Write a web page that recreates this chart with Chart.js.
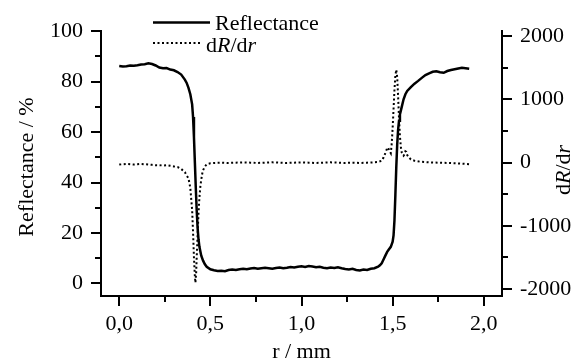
<!DOCTYPE html>
<html><head><meta charset="utf-8">
<script src="https://cdn.jsdelivr.net/npm/chart.js@4"></script>
<style>html,body{margin:0;padding:0;background:#fff}#wrap{width:585px;height:363px;position:relative}</style>
</head><body><div id="wrap"><canvas id="c" width="585" height="363"></canvas></div>
<script>
// ---- data ----
const rX = [0,0.02,0.04,0.06,0.08,0.10,0.12,0.14,0.16,0.18,0.20,0.22,0.24,0.26,0.28,0.30,0.32,0.34,0.36,0.37,0.38,0.39,0.40,0.405,0.41,0.415,0.42,0.425,0.43,0.435,0.44,0.45,0.46,0.47,0.48,0.50,0.52,0.54,0.56,0.58,0.60,0.62,0.64,0.66,0.68,0.70,0.72,0.74,0.76,0.78,0.80,0.82,0.84,0.86,0.88,0.90,0.92,0.94,0.96,0.98,1.00,1.02,1.04,1.06,1.08,1.10,1.12,1.14,1.16,1.18,1.20,1.22,1.24,1.26,1.28,1.30,1.32,1.34,1.36,1.38,1.40,1.42,1.43,1.44,1.45,1.46,1.47,1.48,1.49,1.50,1.505,1.51,1.515,1.52,1.525,1.53,1.535,1.54,1.55,1.56,1.57,1.58,1.60,1.62,1.64,1.66,1.68,1.70,1.72,1.74,1.76,1.78,1.80,1.82,1.84,1.86,1.88,1.90,1.92];
const reflectance = [86.2,86.0,86.1,86.4,86.3,86.5,86.8,86.9,87.3,87.0,86.4,85.6,85.3,85.4,84.8,84.5,83.8,82.8,80.8,79.5,77.5,75.0,71.0,66,58,48,38,29,22,17.5,14.5,11,9,7.6,6.6,5.6,5.2,4.9,5.0,4.8,5.3,5.5,5.3,5.6,5.8,5.6,5.9,6.1,5.8,6.0,6.2,6.0,5.8,6.1,6.3,6.0,6.2,6.5,6.3,6.6,6.8,6.5,6.9,6.7,6.4,6.6,6.2,6.0,6.3,6.1,6.4,6.0,5.7,5.5,5.8,5.3,5.1,5.5,5.3,5.8,6.0,6.6,7.2,8.0,9.5,11.0,12.5,13.5,14.5,16.5,19,25,35,46,55,61,64.5,67,70,73,75,76.3,77.8,79.2,80.3,81.5,82.6,83.3,83.9,84.1,83.7,83.5,84.2,84.6,84.9,85.2,85.5,85.3,85.1];

const dX = [0,0.02,0.04,0.06,0.08,0.10,0.12,0.14,0.16,0.18,0.20,0.22,0.24,0.26,0.28,0.30,0.32,0.34,0.36,0.37,0.38,0.39,0.40,0.405,0.41,0.415,0.418,0.422,0.425,0.43,0.435,0.44,0.445,0.45,0.455,0.46,0.47,0.48,0.50,0.52,0.56,0.60,0.64,0.68,0.72,0.76,0.80,0.84,0.88,0.92,0.96,1.00,1.04,1.08,1.12,1.16,1.20,1.24,1.28,1.32,1.36,1.40,1.42,1.44,1.45,1.46,1.47,1.475,1.48,1.49,1.495,1.50,1.505,1.51,1.515,1.52,1.525,1.53,1.535,1.54,1.545,1.55,1.56,1.565,1.57,1.575,1.58,1.59,1.60,1.62,1.65,1.70,1.75,1.80,1.85,1.90,1.92];
const dRdr = [-30,-25,-20,-25,-30,-25,-20,-25,-30,-35,-40,-40,-45,-40,-50,-60,-70,-100,-150,-200,-250,-400,-750,-1100,-1500,-1800,-1900,-1750,-1500,-1150,-800,-550,-380,-270,-180,-120,-60,-25,-10,-5,0,-5,0,5,0,-5,0,5,0,-5,0,5,0,-5,0,5,0,-5,0,-5,0,5,10,30,80,150,230,240,200,150,300,550,850,1150,1380,1470,1350,1050,700,420,250,160,110,130,180,170,120,80,50,30,15,5,0,-5,-10,-20,-25];

const xTicks = [0, 0.5, 1.0, 1.5, 2.0];
const xTickLabels = ['0,0', '0,5', '1,0', '1,5', '2,0'];
const xMinor = [0.25, 0.75, 1.25, 1.75];
const yLeftTicks = [0, 20, 40, 60, 80, 100];
const yLeftTickLabels = ['0', '20', '40', '60', '80', '100'];
const yLeftMinor = [10, 30, 50, 70, 90];
const yRightTicks = [-2000, -1000, 0, 1000, 2000];
const yRightTickLabels = ['-2000', '-1000', '0', '1000', '2000'];
const yRightMinor = [-1500, -500, 500, 1500];

const FONT = '"Liberation Serif", "Times New Roman", serif';
const fontN = 22;

function rich(ctx, parts, x, y, align) {
  let w = 0;
  const widths = parts.map(p => { ctx.font = (p[1] ? 'italic ' : '') + fontN + 'px ' + FONT; const m = ctx.measureText(p[0]).width; w += m; return m; });
  let cx = align === 'center' ? x - w / 2 : x;
  ctx.textAlign = 'left';
  parts.forEach((p, i) => { ctx.font = (p[1] ? 'italic ' : '') + fontN + 'px ' + FONT; ctx.fillText(p[0], cx, y); cx += widths[i]; });
}
const dRdrParts = [['d', false], ['R', true], ['/d', false], ['r', true]];

const decor = {
  id: 'decor',
  afterDraw(chart) {
    const ctx = chart.ctx, ca = chart.chartArea;
    const sx = chart.scales.x, sy = chart.scales.y, sy2 = chart.scales.y2;
    ctx.save();
    ctx.strokeStyle = '#000'; ctx.lineWidth = 2; ctx.fillStyle = '#000';
    const MAJ = 10, MIN = 6;
    ctx.beginPath();
    xTicks.forEach(v => { const p = Math.round(sx.getPixelForValue(v)); ctx.moveTo(p, ca.bottom); ctx.lineTo(p, ca.bottom + MAJ); });
    xMinor.forEach(v => { const p = Math.round(sx.getPixelForValue(v)); ctx.moveTo(p, ca.bottom); ctx.lineTo(p, ca.bottom + MIN); });
    yLeftTicks.forEach(v => { const p = Math.round(sy.getPixelForValue(v)); ctx.moveTo(ca.left, p); ctx.lineTo(ca.left - MAJ, p); });
    yLeftMinor.forEach(v => { const p = Math.round(sy.getPixelForValue(v)); ctx.moveTo(ca.left, p); ctx.lineTo(ca.left - MIN, p); });
    yRightTicks.forEach(v => { const p = Math.round(sy2.getPixelForValue(v)); ctx.moveTo(ca.right, p); ctx.lineTo(ca.right + MAJ, p); });
    yRightMinor.forEach(v => { const p = Math.round(sy2.getPixelForValue(v)); ctx.moveTo(ca.right, p); ctx.lineTo(ca.right + MIN, p); });
    ctx.stroke();

    // axis titles
    ctx.textBaseline = 'alphabetic';
    ctx.font = fontN + 'px ' + FONT;
    ctx.textAlign = 'center';
    ctx.fillText('r / mm', (ca.left + ca.right) / 2, 358);
    ctx.save();
    ctx.translate(33, 167); ctx.rotate(-Math.PI / 2);
    ctx.fillText('Reflectance / %', 0, 0);
    ctx.restore();
    ctx.save();
    ctx.translate(570, 170); ctx.rotate(-Math.PI / 2);
    rich(ctx, dRdrParts, 0, 0, 'center');
    ctx.restore();

    // legend
    ctx.lineWidth = 2.5; ctx.setLineDash([]);
    ctx.beginPath(); ctx.moveTo(153, 22.5); ctx.lineTo(210, 22.5); ctx.stroke();
    ctx.font = fontN + 'px ' + FONT; ctx.textAlign = 'left';
    ctx.fillText('Reflectance', 215, 30);
    ctx.lineWidth = 2; ctx.setLineDash([2, 2.5]);
    ctx.beginPath(); ctx.moveTo(153, 43); ctx.lineTo(201, 43); ctx.stroke();
    ctx.setLineDash([]);
    rich(ctx, dRdrParts, 206, 52, 'left');
    ctx.restore();
  }
};

const tickFont = { family: FONT, size: fontN };
new Chart(document.getElementById('c'), {
  type: 'line',
  data: {
    datasets: [
      { label: 'Reflectance', data: rX.map((x, i) => ({ x, y: reflectance[i] })), yAxisID: 'y',
        borderColor: '#000', borderWidth: 2.5, pointRadius: 0, fill: false, tension: 0 },
      { label: 'dR/dr', data: dX.map((x, i) => ({ x, y: dRdr[i] })), yAxisID: 'y2',
        borderColor: '#000', borderWidth: 2, borderDash: [2, 2.5], pointRadius: 0, fill: false, tension: 0 }
    ]
  },
  options: {
    responsive: false, animation: false, devicePixelRatio: 1,
    layout: { padding: { top: 31, left: 0, right: 0, bottom: 0 } },
    plugins: { legend: { display: false }, tooltip: { enabled: false } },
    scales: {
      x: { type: 'linear', position: 'bottom', min: -0.1, max: 2.1,
        afterBuildTicks: s => { s.ticks = xTicks.map(v => ({ value: v })); },
        afterFit: s => { s.height = 67; },
        ticks: { font: tickFont, color: '#000', padding: 15, maxRotation: 0, autoSkip: false,
          callback: (v, i) => xTickLabels[i] },
        grid: { display: false, drawTicks: false },
        border: { display: true, color: '#000', width: 2 } },
      y: { type: 'linear', position: 'left', min: -5, max: 100,
        afterBuildTicks: s => { s.ticks = yLeftTicks.map(v => ({ value: v })); },
        afterFit: s => { s.width = 101; },
        ticks: { font: tickFont, color: '#000', padding: 18, autoSkip: false,
          callback: (v, i) => yLeftTickLabels[i] },
        grid: { display: false, drawTicks: false },
        border: { display: true, color: '#000', width: 2 } },
      y2: { type: 'linear', position: 'right', min: -2110, max: 2080,
        afterBuildTicks: s => { s.ticks = yRightTicks.map(v => ({ value: v })); },
        afterFit: s => { s.width = 83; },
        ticks: { font: tickFont, color: '#000', padding: 18, autoSkip: false,
          callback: (v, i) => yRightTickLabels[i] },
        grid: { display: false, drawTicks: false },
        border: { display: true, color: '#000', width: 2 } }
    }
  },
  plugins: [decor]
});
</script></body></html>
